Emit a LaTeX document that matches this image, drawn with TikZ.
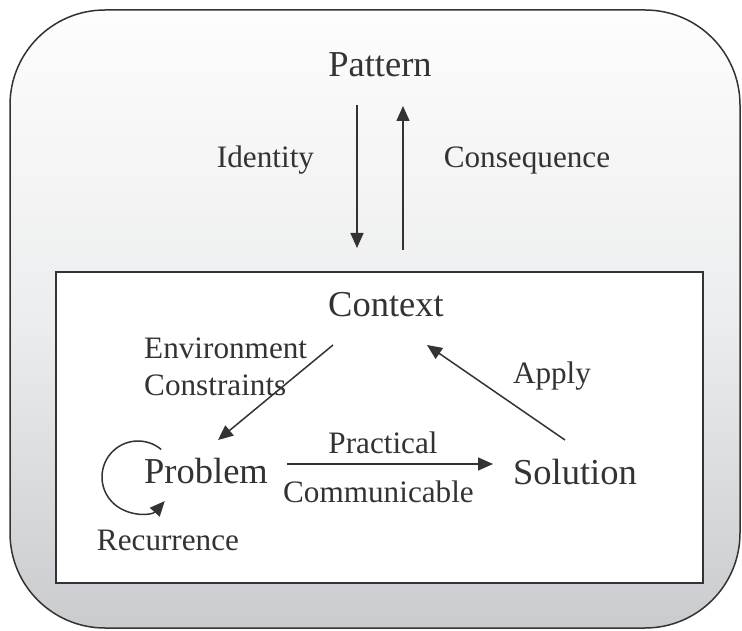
\documentclass[tikz,border=0pt]{standalone}
\usepackage{fontspec}
\setmainfont{Liberation Serif}
\usetikzlibrary{arrows.meta,calc}
\definecolor{ink}{RGB}{51,51,51}
\definecolor{shadetop}{RGB}{253,253,253}
\definecolor{shademid}{RGB}{236,237,238}
\definecolor{shadebot}{RGB}{202,203,206}
\tikzset{
  big/.style={font=\fontsize{36.5}{41}\selectfont, text=ink, inner sep=0pt, anchor=base},
  lab/.style={font=\fontsize{31.2}{35}\selectfont, text=ink, inner sep=0pt, anchor=base},
  conn/.style={draw=ink, line width=1.5pt, -{Triangle[length=15pt,width=13pt]}},
}
\begin{document}
\begin{tikzpicture}[x=1pt,y=1pt]
\useasboundingbox (0,0) rectangle (742,630);
% outer rounded panel
\shade[top color=shadetop, bottom color=shadebot, middle color=shademid, rounded corners=95pt]
  (10,2) rectangle (740,620);
\draw[ink, line width=1.5pt, rounded corners=95pt] (10,2) rectangle (740,620);
% inner box
\draw[ink, line width=1.6pt, fill=white] (56,47) rectangle (703,358);

% nodes
\node[big] (pattern) at (380,553) {Pattern};
\node[big] (context) at (386,313) {Context};
\node[big] (problem) at (206,147) {Problem};
\node[big] (solution) at (575,146) {Solution};

\node[lab] (identity) at (265.5,462) {Identity};
\node[lab] (consequence) at (527,462) {Consequence};
\node[lab, anchor=base west] (environment) at (144,271) {Environment};
\node[lab, anchor=base west] (constraints) at (144,234) {Constraints};
\node[lab] (apply) at (552,246) {Apply};
\node[lab] (practical) at (383,176) {Practical};
\node[lab] (communicable) at (378.5,128) {Communicable};
\node[lab] (recurrence) at (168,80) {Recurrence};

% connector ends
\coordinate (patDownA) at (357,525);
\coordinate (patDownB) at (357,382);
\coordinate (patUpA) at (403,380);
\coordinate (patUpB) at (403,524);
\coordinate (ctxOut) at (333,285);
\coordinate (probIn) at (218,190);
\coordinate (solOut) at (565,190);
\coordinate (ctxIn) at (427,285);
\coordinate (probOut) at (287,166);
\coordinate (solIn) at (493,166);
\coordinate (loopStart) at ($(138,153)+(50:36)$);

% connectors
\draw[conn] (patDownA) -- (patDownB);
\draw[conn] (patUpA) -- (patUpB);
\draw[conn] (ctxOut) -- (probIn);
\draw[conn] (solOut) -- (ctxIn);
\draw[conn] (probOut) -- (solIn);
\draw[conn] (loopStart) arc[start angle=50, end angle=318, radius=36];
\end{tikzpicture}
\end{document}
